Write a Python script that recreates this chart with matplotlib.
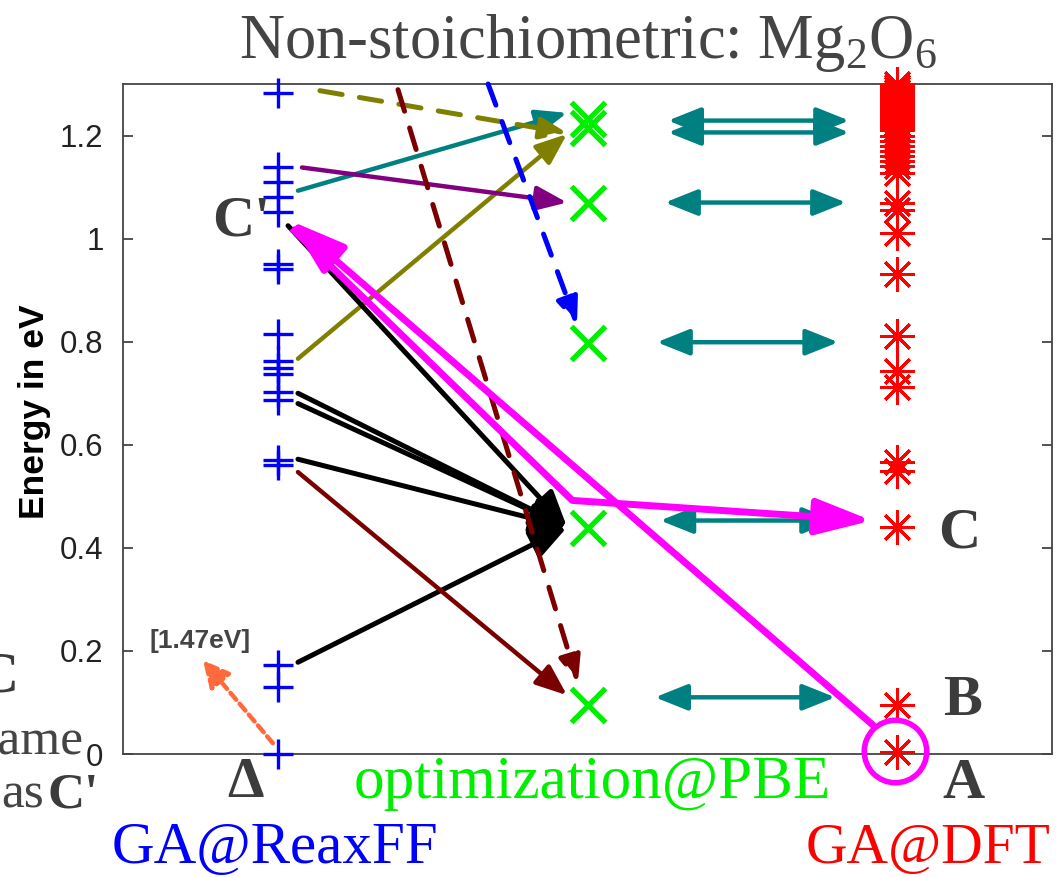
import matplotlib
matplotlib.use('Agg')
import matplotlib.pyplot as plt
from matplotlib.ticker import FuncFormatter, FixedLocator

plt.rcParams['font.family'] = ['Liberation Sans', 'DejaVu Sans']
plt.rcParams['mathtext.fontset'] = 'custom'
plt.rcParams['mathtext.rm'] = 'Liberation Serif'

# ---------------- data ----------------
x_reax, x_pbe, x_dft = 1.0, 2.0, 3.0
reaxff_E = [1.282, 1.139, 1.110, 1.081, 1.051, 0.950, 0.942, 0.814, 0.762,
            0.748, 0.738, 0.702, 0.686, 0.570, 0.560, 0.172, 0.130, 0.0]
pbe_E = [1.232, 1.215, 1.070, 0.798, 0.438, 0.095]
dft_E = [1.300, 1.295, 1.290, 1.285, 1.280, 1.275, 1.270, 1.265, 1.260,
         1.255, 1.250, 1.245, 1.240, 1.235, 1.230, 1.225, 1.220, 1.215,
         1.210, 1.200, 1.190, 1.180, 1.170, 1.160, 1.150, 1.140, 1.128,
         1.070, 1.055, 1.010, 0.932, 0.812, 0.744, 0.712, 0.566, 0.550,
         0.441, 0.095, 0.004]
yticks = [0, 0.2, 0.4, 0.6, 0.8, 1.0, 1.2]

# mapping arrows ReaxFF -> PBE
solid_x0 = [1.065, 1.065, 1.078, 1.033, 1.065, 1.065, 1.065, 1.065, 1.065]
solid_E0 = [1.093, 0.767, 1.138, 1.025, 0.700, 0.680, 0.572, 0.178, 0.547]
solid_x1 = [1.934, 1.934, 1.934, 1.934, 1.934, 1.934, 1.934, 1.934, 1.934]
solid_E1 = [1.244, 1.203, 1.070, 0.440, 0.440, 0.440, 0.440, 0.440, 0.114]
solid_col = ['#008080', '#808000', '#800080', 'black', 'black', 'black',
             'black', 'black', '#7a0000']

dash_x0 = [1.136, 1.388, 1.679]
dash_E0 = [1.287, 1.289, 1.300]
dash_x1 = [1.934, 1.969, 1.966]
dash_E1 = [1.205, 0.138, 0.833]
dash_col = ['#808000', '#7a0000', '#0000ff']

# PBE <-> DFT double arrows
dbl_E = [1.229, 1.206, 1.070, 0.799, 0.453, 0.110]
dbl_x0 = [2.26, 2.26, 2.25, 2.224, 2.235, 2.218]
dbl_x1 = [2.845, 2.845, 2.835, 2.81, 2.80, 2.80]

# magenta paths
mag1_x = [2.922, 1.039]
mag1_E = [0.056, 1.035]
mag2_x = [1.045, 1.951, 2.918]
mag2_E = [1.020, 0.492, 0.453]

# ---------------- figure ----------------
W, H = 1058, 877
fig = plt.figure(figsize=(W / 100, H / 100), dpi=100)
ax = fig.add_axes([123 / W, 1 - 754 / H, (1052 - 123) / W, (754 - 84) / H])
ax.set_xlim(0.5, 3.5)
ax.set_ylim(0, 1.3)

for s in ax.spines.values():
    s.set_color('#444444')
    s.set_linewidth(1.3)
ax.set_xticks([])
ax.yaxis.set_major_locator(FixedLocator(yticks))
ax.yaxis.set_major_formatter(FuncFormatter(lambda v, p: '%g' % v))
ax.tick_params(axis='y', direction='in', length=7, width=1.3, color='#444444',
               labelsize=22.5, labelcolor='#222222', pad=14, right=True)

# markers
ax.plot([x_reax] * len(reaxff_E), reaxff_E, ls='none', marker='+', ms=21,
        mew=2.4, color='#0000ff', clip_on=False, zorder=3)
ax.plot([x_pbe] * len(pbe_E), pbe_E, ls='none', marker='x', ms=24,
        mew=3.8, color='#00ee00', clip_on=False, zorder=3)
ax.plot([x_dft] * len(dft_E), dft_E, ls='none', marker=(8, 2, 0), ms=25,
        mew=2.1, color='#ff0000', clip_on=False, zorder=3)


def arrow(x0, y0, x1, y1, color, lw, hl, hw, ls='-', z=4, style='-|>'):
    ax.annotate('', xy=(x1, y1), xytext=(x0, y0), annotation_clip=False,
                arrowprops=dict(arrowstyle=f'{style},head_length={hl},head_width={hw}',
                                color=color, lw=lw, linestyle=ls, shrinkA=0,
                                shrinkB=0, mutation_scale=1),
                zorder=z)


for x0, e0, x1, e1, c in zip(solid_x0, solid_E0, solid_x1, solid_E1, solid_col):
    if c == 'black':
        arrow(x0, e0, x1, e1, c, 3.6, 22, 9)
    else:
        arrow(x0, e0, x1, e1, c, 3.2, 19, 7.5)
for x0, e0, x1, e1, c in zip(dash_x0, dash_E0, dash_x1, dash_E1, dash_col):
    arrow(x0, e0, x1, e1, c, 3.6, 16, 6.5, ls=(0, (4.5, 3.5)))
for e, x0, x1 in zip(dbl_E, dbl_x0, dbl_x1):
    arrow(x0, e, x1, e, '#008080', 3.2, 20, 8, style='<|-|>')

# magenta
arrow(mag1_x[0], mag1_E[0], mag1_x[1], mag1_E[1], '#ff00ff', 5, 34, 11, z=6)
ax.plot(mag2_x[:2], mag2_E[:2], color='#ff00ff', lw=5, zorder=6,
        solid_capstyle='butt')
arrow(mag2_x[1], mag2_E[1], mag2_x[2], mag2_E[2], '#ff00ff', 5, 34, 11, z=6)
ax.plot([2.993], [0.006], ls='none', marker='o', ms=45, mfc='none',
        mec='#ff00ff', mew=4, clip_on=False, zorder=6)

# orange dashed pointer
arrow(0.984, 0.021, 0.758, 0.182, '#ff6a3d', 3.2, 16, 8, ls=(0, (2, 1.2)), z=5)


# ---------------- text ----------------
def ft(x, y, s, **kw):
    fig.text(x / W, 1 - y / H, s, **kw)


serif = 'Liberation Serif'
gray = '#3c3c3c'
ft(588, 58, 'Non-stoichiometric: Mg$_\\mathrm{2}$O$_\\mathrm{6}$', ha='center',
   va='baseline', fontsize=45, family=serif, color='#444444')
ft(35, 412, 'Energy in eV', rotation=90, ha='center', va='center',
   fontsize=25.5, fontweight='bold', color='black')
ft(592, 798, 'optimization@PBE', ha='center', va='baseline', fontsize=44,
   family=serif, color='#00ee00')
ft(275, 863, 'GA@ReaxFF', ha='center', va='baseline', fontsize=42.5,
   family=serif, color='#0000ff')
ft(928, 863, 'GA@DFT', ha='center', va='baseline', fontsize=41.5,
   family=serif, color='#ff0000')
for (x, y, s) in [(938, 548, 'C'), (943, 715, 'B'), (942, 798, 'A'),
                  (212, 235, "C'"), (227, 797, '\u0394')]:
    ft(x, y, s, ha='left', va='baseline', fontsize=42, family=serif,
       fontweight='bold', color=gray)
ft(18, 692, 'C', ha='right', va='baseline', fontsize=42, family=serif,
   fontweight='bold', color=gray)
ft(84, 753, 'Same', ha='right', va='baseline', fontsize=37, family=serif,
   color='#444444')
ft(44, 808, 'as', ha='right', va='baseline', fontsize=37, family=serif,
   color='#444444')
ft(48, 808, "C'", ha='left', va='baseline', fontsize=37, family=serif,
   fontweight='bold', color=gray)
ft(200, 648, '[1.47eV]', ha='center', va='baseline', fontsize=19,
   fontweight='bold', color='#444444')

fig.savefig('out.png', dpi=100)
